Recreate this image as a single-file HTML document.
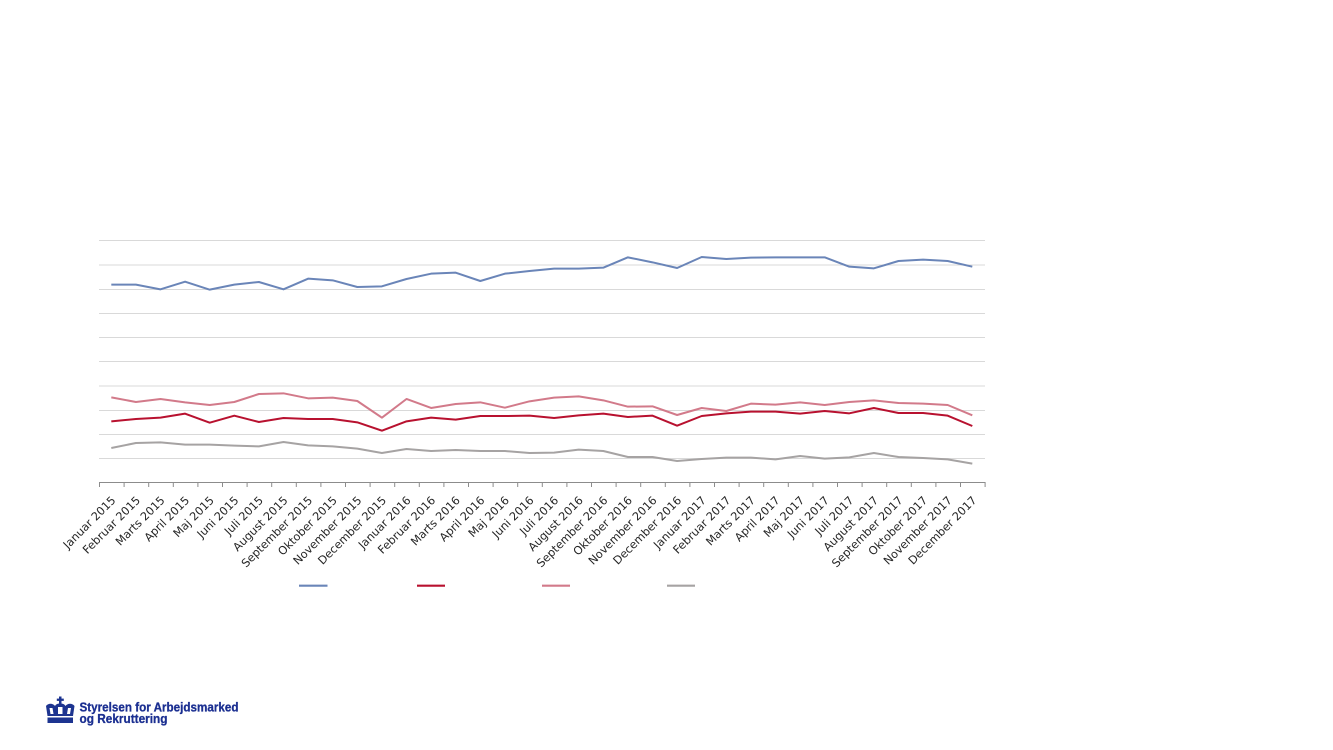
<!DOCTYPE html>
<html><head><meta charset="utf-8"><style>
html,body{margin:0;padding:0;background:#fff;width:1333px;height:750px;overflow:hidden}
svg{display:block}
</style></head><body>
<svg width="1333" height="750" viewBox="0 0 1333 750" xmlns="http://www.w3.org/2000/svg">
<rect width="1333" height="750" fill="#fff"/>
<g stroke="#d9d9d9" stroke-width="1">
<line x1="99" y1="240.5" x2="985" y2="240.5"/>
<line x1="99" y1="265" x2="985" y2="265"/>
<line x1="99" y1="289.5" x2="985" y2="289.5"/>
<line x1="99" y1="313.5" x2="985" y2="313.5"/>
<line x1="99" y1="337.5" x2="985" y2="337.5"/>
<line x1="99" y1="361.5" x2="985" y2="361.5"/>
<line x1="99" y1="386" x2="985" y2="386"/>
<line x1="99" y1="410.5" x2="985" y2="410.5"/>
<line x1="99" y1="434.5" x2="985" y2="434.5"/>
<line x1="99" y1="458.5" x2="985" y2="458.5"/>
</g>
<line x1="99" y1="482.5" x2="985.5" y2="482.5" stroke="#8c8c8c" stroke-width="1"/>
<g stroke="#8c8c8c" stroke-width="1">
<line x1="99.5" y1="482" x2="99.5" y2="487"/><line x1="124.1" y1="482" x2="124.1" y2="487"/><line x1="148.7" y1="482" x2="148.7" y2="487"/><line x1="173.3" y1="482" x2="173.3" y2="487"/><line x1="197.9" y1="482" x2="197.9" y2="487"/><line x1="222.5" y1="482" x2="222.5" y2="487"/><line x1="247.1" y1="482" x2="247.1" y2="487"/><line x1="271.7" y1="482" x2="271.7" y2="487"/><line x1="296.3" y1="482" x2="296.3" y2="487"/><line x1="320.9" y1="482" x2="320.9" y2="487"/><line x1="345.5" y1="482" x2="345.5" y2="487"/><line x1="370.1" y1="482" x2="370.1" y2="487"/><line x1="394.7" y1="482" x2="394.7" y2="487"/><line x1="419.3" y1="482" x2="419.3" y2="487"/><line x1="443.9" y1="482" x2="443.9" y2="487"/><line x1="468.5" y1="482" x2="468.5" y2="487"/><line x1="493.1" y1="482" x2="493.1" y2="487"/><line x1="517.7" y1="482" x2="517.7" y2="487"/><line x1="542.3" y1="482" x2="542.3" y2="487"/><line x1="566.9" y1="482" x2="566.9" y2="487"/><line x1="591.5" y1="482" x2="591.5" y2="487"/><line x1="616.1" y1="482" x2="616.1" y2="487"/><line x1="640.7" y1="482" x2="640.7" y2="487"/><line x1="665.3" y1="482" x2="665.3" y2="487"/><line x1="689.9" y1="482" x2="689.9" y2="487"/><line x1="714.5" y1="482" x2="714.5" y2="487"/><line x1="739.1" y1="482" x2="739.1" y2="487"/><line x1="763.7" y1="482" x2="763.7" y2="487"/><line x1="788.3" y1="482" x2="788.3" y2="487"/><line x1="812.9" y1="482" x2="812.9" y2="487"/><line x1="837.5" y1="482" x2="837.5" y2="487"/><line x1="862.1" y1="482" x2="862.1" y2="487"/><line x1="886.7" y1="482" x2="886.7" y2="487"/><line x1="911.3" y1="482" x2="911.3" y2="487"/><line x1="935.9" y1="482" x2="935.9" y2="487"/><line x1="960.5" y1="482" x2="960.5" y2="487"/><line x1="985.1" y1="482" x2="985.1" y2="487"/>
</g>
<g transform="translate(111.3,230) scale(24.6,0.33333)" fill="none" stroke-linejoin="round">
<polyline vector-effect="non-scaling-stroke" stroke="#6a85b8" stroke-width="2" points="0,164 1,164 2,178 3,155 4,179 5,164 6,156 7,178 8,146 9,151 10,171 11,169 12,147 13,131 14,128 15,153 16,131 17,123 18,116 19,116 20,113 21,82 22,97 23,114 24,81 25,87 26,83 27,82 28,82 29,82 30,110 31,115 32,93 33,89 34,93 35,110"/>
<polyline vector-effect="non-scaling-stroke" stroke="#d27a8a" stroke-width="2" points="0,502 1,516 2,507 3,517 4,525 5,516 6,492 7,490 8,505 9,503 10,513 11,563 12,507 13,534 14,522 15,517 16,533 17,514 18,503 19,499 20,511 21,530 22,529 23,555 24,534 25,543 26,521 27,524 28,517 29,525 30,516 31,511 32,519 33,521 34,525 35,556"/>
<polyline vector-effect="non-scaling-stroke" stroke="#b8112f" stroke-width="2" points="0,574 1,567 2,563 3,551 4,578 5,557 6,576 7,564 8,567 9,567 10,577 11,602 12,574 13,563 14,569 15,558 16,558 17,557 18,564 19,556 20,551 21,561 22,557 23,587 24,558 25,550 26,545 27,545 28,551 29,543 30,550 31,534 32,549 33,549 34,557 35,588"/>
<polyline vector-effect="non-scaling-stroke" stroke="#a6a3a3" stroke-width="2" points="0,654 1,639 2,637 3,644 4,644 5,647 6,649 7,636 8,646 9,649 10,656 11,669 12,657 13,663 14,660 15,663 16,663 17,669 18,668 19,659 20,663 21,681 22,681 23,693 24,687 25,683 26,683 27,688 28,678 29,686 30,682 31,669 32,681 33,684 34,688 35,701"/>
</g>
<g font-family="'DejaVu Sans', 'Liberation Sans', sans-serif" font-size="11.3" fill="#262626" text-anchor="end">
<text transform="translate(116.3,501) rotate(-45)">Januar 2015</text>
<text transform="translate(140.9,501) rotate(-45)">Februar 2015</text>
<text transform="translate(165.5,501) rotate(-45)">Marts 2015</text>
<text transform="translate(190.1,501) rotate(-45)">April 2015</text>
<text transform="translate(214.7,501) rotate(-45)">Maj 2015</text>
<text transform="translate(239.3,501) rotate(-45)">Juni 2015</text>
<text transform="translate(263.9,501) rotate(-45)">Juli 2015</text>
<text transform="translate(288.5,501) rotate(-45)">August 2015</text>
<text transform="translate(313.1,501) rotate(-45)">September 2015</text>
<text transform="translate(337.7,501) rotate(-45)">Oktober 2015</text>
<text transform="translate(362.3,501) rotate(-45)">November 2015</text>
<text transform="translate(386.9,501) rotate(-45)">December 2015</text>
<text transform="translate(411.5,501) rotate(-45)">Januar 2016</text>
<text transform="translate(436.1,501) rotate(-45)">Februar 2016</text>
<text transform="translate(460.7,501) rotate(-45)">Marts 2016</text>
<text transform="translate(485.3,501) rotate(-45)">April 2016</text>
<text transform="translate(509.9,501) rotate(-45)">Maj 2016</text>
<text transform="translate(534.5,501) rotate(-45)">Juni 2016</text>
<text transform="translate(559.1,501) rotate(-45)">Juli 2016</text>
<text transform="translate(583.7,501) rotate(-45)">August 2016</text>
<text transform="translate(608.3,501) rotate(-45)">September 2016</text>
<text transform="translate(632.9,501) rotate(-45)">Oktober 2016</text>
<text transform="translate(657.5,501) rotate(-45)">November 2016</text>
<text transform="translate(682.1,501) rotate(-45)">December 2016</text>
<text transform="translate(706.7,501) rotate(-45)">Januar 2017</text>
<text transform="translate(731.3,501) rotate(-45)">Februar 2017</text>
<text transform="translate(755.9,501) rotate(-45)">Marts 2017</text>
<text transform="translate(780.5,501) rotate(-45)">April 2017</text>
<text transform="translate(805.1,501) rotate(-45)">Maj 2017</text>
<text transform="translate(829.7,501) rotate(-45)">Juni 2017</text>
<text transform="translate(854.3,501) rotate(-45)">Juli 2017</text>
<text transform="translate(878.9,501) rotate(-45)">August 2017</text>
<text transform="translate(903.5,501) rotate(-45)">September 2017</text>
<text transform="translate(928.1,501) rotate(-45)">Oktober 2017</text>
<text transform="translate(952.7,501) rotate(-45)">November 2017</text>
<text transform="translate(977.3,501) rotate(-45)">December 2017</text>
</g>
<g stroke-width="2.2">
<line x1="299" y1="585.7" x2="327.5" y2="585.7" stroke="#6a85b8"/>
<line x1="417" y1="585.7" x2="445" y2="585.7" stroke="#b8112f"/>
<line x1="542" y1="585.7" x2="570" y2="585.7" stroke="#d27a8a"/>
<line x1="667" y1="585.7" x2="695" y2="585.7" stroke="#a6a3a3"/>
</g>
<g fill="#1d3490">
<rect x="59" y="696.5" width="2.5" height="7"/>
<rect x="56.8" y="698.6" width="7" height="2.3"/>
<path d="M46,706 C48,703 53,703 55,706 C56,704 58,703.5 60.3,703.5 C62.5,703.5 64.5,704 65.5,706 C67.5,703 72.5,703 74.5,706 L73,716 L47.5,716 Z M49.5,708 L50.5,714 L53.5,714 L52.5,708 Z M58,707 L58,714 L62.5,714 L62.5,707 Z M68,708 L67,714 L70,714 L71,708 Z" fill-rule="evenodd"/>
<rect x="47.5" y="717.5" width="25.5" height="5.5"/>
</g>
<g font-family="'Liberation Sans', sans-serif" font-weight="bold" font-size="13" fill="#1b2f91" stroke="#1b2f91" stroke-width="0.3">
<text x="79.5" y="711.3" textLength="159" lengthAdjust="spacingAndGlyphs">Styrelsen for Arbejdsmarked</text>
<text x="79.5" y="723" textLength="88" lengthAdjust="spacingAndGlyphs">og Rekruttering</text>
</g>
</svg>
</body></html>
